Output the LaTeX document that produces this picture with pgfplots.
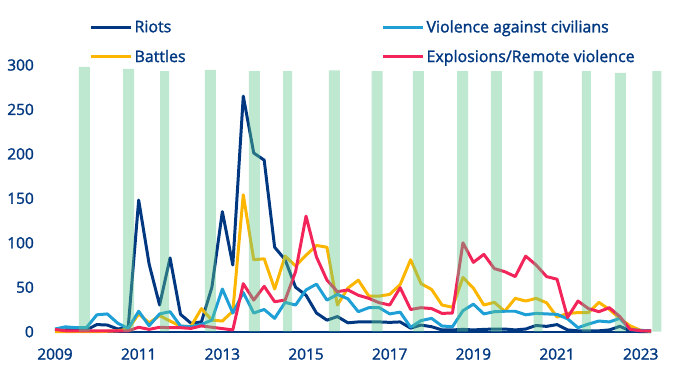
\documentclass[border=0pt]{standalone}
\usepackage{pgfplots}
\pgfplotsset{compat=1.18}
\usepackage{pgfplotstable}
\usepackage{fontspec}
\setmainfont{Open Sans}[FakeBold=1.6]
\definecolor{cRiot}{RGB}{0,55,129}
\definecolor{cBat}{RGB}{253,182,0}
\definecolor{cCiv}{RGB}{30,160,214}
\definecolor{cExp}{RGB}{242,36,90}
\definecolor{cBar}{RGB}{96,200,140}
\definecolor{cTxt}{RGB}{0,55,129}

% quarterly index: 0 = 2009Q1 ... 57 = 2023Q2
\pgfplotstableread{
i riots battles civ expl
0 1 0 3 2.5
1 2 0 5.5 1
2 2 0 4.5 1
3 2 0 4.5 1
4 8 0 19 1
5 7.5 0.5 20 1
6 3 1 9.5 1
7 5 3 3.7 1
8 148 20 23 5
9 76 10 6.7 2.6
10 30 18 20 5
11 83 12 22.5 4.5
12 19.5 6 6.4 4.5
13 9.5 6 5.6 3.7
14 11 26 8.2 6.5
15 50 13 13 5
16 135 12 48 3.5
17 75 23 21 2
18 265 154 44 54
19 201 81 21 35.6
20 193 82 25 51
21 95 48 15 33.7
22 81 85 33 35.6
23 50 74 30 67.5
24 41 86 47 130
25 21 97 53.5 84
26 13 95 35.5 58
27 17 30 42 45
28 10 49 37 47
29 11 58 22.5 41
30 11 40 27 37.5
31 11 40 27 32.6
32 10.5 42 20 30
33 11 53 22 49.5
34 4 81 5 25
35 7.5 54 12.5 27
36 5.6 47.6 15 26
37 2 30 6.4 20.6
38 2 27.5 5.6 21
39 2.6 61 23.6 100
40 2 49 31 78
41 2.6 30 20 87
42 3 33 22.5 71
43 3 23 23 67.5
44 2 37.5 23 62
45 3 34.5 19 85
46 7 37.5 20.6 75
47 6 32.5 20 62
48 8 16.5 19.5 59
49 2 20.5 14.5 16
50 1 21.5 4.5 34.5
51 1 21.5 8.6 26
52 1 33 12 22.5
53 2 25 11 27
54 6 15 15 17
55 1 6.5 2.5 2.6
56 0 1.5 1.5 1
57 0 0.5 1 1
}\data

\pgfplotstableread{
x h
2.8 298
7.05 295.5
14.85 294.5
19.07 293
26.72 294
30.8 293
34.75 293
38.96 293
42.2 293
54.06 291
}\barsW

\pgfplotstableread{
x h
10.47 293
22.25 293
46.2 293
50.8 293
57.55 293
}\barsN

\begin{document}
\begin{tikzpicture}
\useasboundingbox (-55bp,-55.3bp) rectangle (635bp,331.7bp);
\begin{axis}[
  scale only axis,
  width=596.2bp, height=266.7bp,
  xmin=0, xmax=57, ymin=0, ymax=300,
  clip=false,
  axis x line=bottom, axis y line=left,
  axis line style={-},
  x axis line style={draw=cRiot, line width=1.8pt},
  y axis line style={draw=none},
  major tick length=0pt,
  xtick={0,8,...,56},
  xticklabels={2009,2011,2013,2015,2017,2019,2021,2023},
  ytick={0,50,...,300},
  /pgf/number format/assume math mode=true,
  tick label style={font=\fontsize{15.5}{18}\selectfont, text=cTxt},
  xticklabel style={inner sep=0pt, anchor=north, yshift=-16.5bp},
  yticklabel style={inner sep=0pt, anchor=east, xshift=-21bp},
  legend columns=2,
  legend cell align=left,
  legend style={draw=none, fill=none, inner sep=0pt, outer sep=0pt,
    at={(0.058,1.175)}, anchor=north west,
    font=\fontsize{16}{19}\selectfont, text=cTxt,
    nodes={inner sep=2bp},
    row sep=12bp,
    /tikz/every even column/.append style={column sep=194bp}},
  legend image code/.code={\draw[#1] (0bp,0bp) -- (40bp,0bp);},
  every axis plot/.append style={line width=3pt, line join=round},
]
\addlegendimage{cRiot, line width=3pt}
\addlegendentry{Riots}
\addlegendimage{cCiv, line width=3pt}
\addlegendentry{Violence against civilians}
\addlegendimage{cBat, line width=3pt}
\addlegendentry{Battles}
\addlegendimage{cExp, line width=3pt}
\addlegendentry{Explosions/Remote violence}

\addplot[cRiot, forget plot] table[x=i, y=riots] {\data};
\addplot[cBat, forget plot] table[x=i, y=battles] {\data};
\addplot[cCiv, forget plot] table[x=i, y=civ] {\data};
\addplot[cExp, forget plot] table[x=i, y=expl] {\data};

\addplot[ybar, bar width=1.05, bar shift=0pt, fill=cBar, draw=none, fill opacity=0.41, forget plot] table[x=x, y=h] {\barsW};
\addplot[ybar, bar width=0.86, bar shift=0pt, fill=cBar, draw=none, fill opacity=0.41, forget plot] table[x=x, y=h] {\barsN};
\end{axis}
\end{tikzpicture}
\end{document}
